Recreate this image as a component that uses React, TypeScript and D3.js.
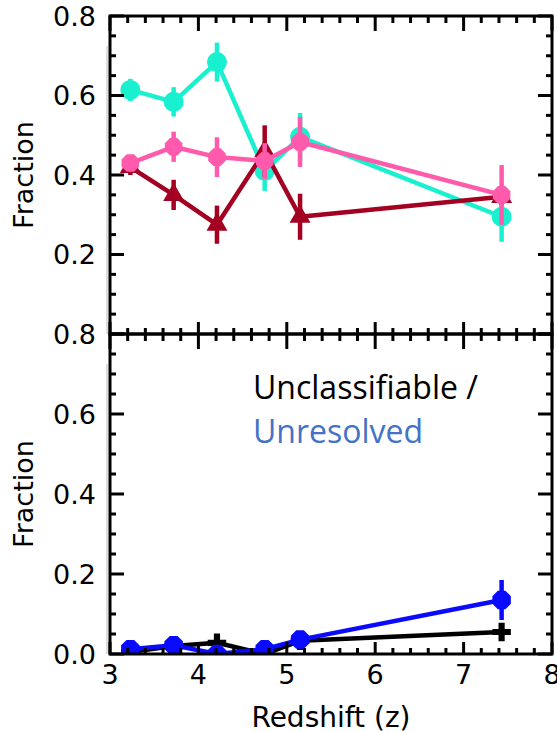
import React from "react";
import * as d3 from "d3";

const Z = [3.23, 3.72, 4.21, 4.75, 5.15, 7.43];
const cyanVals = [0.614, 0.584, 0.684, 0.41, 0.496, 0.295];
const cyanErr = [0.028, 0.037, 0.049, 0.05, 0.06, 0.063];
const redVals = [0.42, 0.35, 0.275, 0.46, 0.295, 0.345];
const redErr = [0.02, 0.038, 0.048, 0.065, 0.058, 0.02];
const pinkVals = [0.43, 0.471, 0.445, 0.435, 0.483, 0.35];
const pinkErr = [0.02, 0.038, 0.05, 0.045, 0.063, 0.075];
const blackVals = [0.005, 0.02, 0.028, 0.0, 0.033, 0.055];
const blackErr = [0.005, 0.008, 0.02, 0.005, 0.008, 0.02];
const blueVals = [0.012, 0.022, 0.0, 0.012, 0.036, 0.135];
const blueErr = [0.01, 0.012, 0.005, 0.01, 0.012, 0.05];

const xTicks = [3, 4, 5, 6, 7, 8];
const yTicks = [0, 0.2, 0.4, 0.6, 0.8];
const yTickLabels = ["0.0", "0.2", "0.4", "0.6", "0.8"];
const xLabel = "Redshift (z)";
const yLabel = "Fraction";

const W = 557, H = 731;
const X0 = 110, X1 = 552;
const x = d3.scaleLinear().domain([3, 8]).range([X0, X1]);
const yTop = d3.scaleLinear().domain([0, 0.8]).range([334, 16]);
const yBot = d3.scaleLinear().domain([0, 0.8]).range([654, 334]);

const CYAN = "#19f0cf";
const RED = "#a30022";
const PINK = "#ff5aab";
const BLUE = "#0a0aff";
const BLACK = "#000";
const FONT = "DejaVu Sans";

function polygonPath(n: number, r: number, rot: number) {
  const pts: [number, number][] = d3.range(n).map((i) => {
    const a = rot + (i * 2 * Math.PI) / n;
    return [r * Math.cos(a), r * Math.sin(a)];
  });
  return "M" + pts.map((p) => p.join(",")).join("L") + "Z";
}

function Series({ vals, errs, color, y, marker, size }: any) {
  const line = d3.line<number>().x((_, i) => x(Z[i])).y((v) => y(v));
  let shape = "";
  if (marker === "octagon") shape = polygonPath(8, size, Math.PI / 8);
  else if (marker === "triangle") shape = d3.symbol(d3.symbolTriangle, size)()!;
  else if (marker === "cross") shape = d3.symbol(d3.symbolCross, size)()!;
  return (
    <g>
      <path d={line(vals)!} fill="none" stroke={color} strokeWidth={4.5} strokeLinejoin="round" />
      {vals.map((v: number, i: number) => (
        <line key={"e" + i} x1={x(Z[i])} x2={x(Z[i])} y1={y(v - errs[i])} y2={y(v + errs[i])} stroke={color} strokeWidth={4.5} />
      ))}
      {vals.map((v: number, i: number) =>
        marker === "circle" ? (
          <circle key={"m" + i} cx={x(Z[i])} cy={y(v)} r={size} fill={color} />
        ) : (
          <path key={"m" + i} d={shape} transform={`translate(${x(Z[i])},${y(v)})`} fill={color} />
        )
      )}
    </g>
  );
}

function Frame({ y, top }: { y: any; top: boolean }) {
  const [yb, yt] = y.range();
  const minorY = d3.range(0, 0.8001, 0.05).filter((v) => Math.abs(Math.round(v / 0.2) * 0.2 - v) > 1e-6);
  const minorX = d3.range(3, 8.0001, 0.2).filter((v) => Math.abs(Math.round(v) - v) > 1e-6);
  const els: any[] = [];
  yTicks.forEach((v, i) => {
    els.push(<line key={"yl" + i} x1={X0} x2={X0 + 14} y1={y(v)} y2={y(v)} stroke="#000" strokeWidth={3} />);
    els.push(<line key={"yr" + i} x1={X1} x2={X1 - 14} y1={y(v)} y2={y(v)} stroke="#000" strokeWidth={3} />);
  });
  minorY.forEach((v, i) => {
    els.push(<line key={"yml" + i} x1={X0} x2={X0 + 6} y1={y(v)} y2={y(v)} stroke="#000" strokeWidth={3} />);
    els.push(<line key={"ymr" + i} x1={X1} x2={X1 - 6} y1={y(v)} y2={y(v)} stroke="#000" strokeWidth={3} />);
  });
  xTicks.forEach((v, i) => {
    els.push(<line key={"xb" + i} x1={x(v)} x2={x(v)} y1={yb} y2={yb - 12} stroke="#000" strokeWidth={3} />);
    els.push(<line key={"xt" + i} x1={x(v)} x2={x(v)} y1={yt} y2={yt + 15} stroke="#000" strokeWidth={3} />);
  });
  minorX.forEach((v, i) => {
    els.push(<line key={"xmb" + i} x1={x(v)} x2={x(v)} y1={yb} y2={yb - 6} stroke="#000" strokeWidth={3} />);
    els.push(<line key={"xmt" + i} x1={x(v)} x2={x(v)} y1={yt} y2={yt + 7} stroke="#000" strokeWidth={3} />);
  });
  const labelIdx = yTicks.map((_, i) => i).filter((i) => !(top && yTicks[i] === 0));
  return (
    <g>
      <line x1={X0 - 3} x2={X0 - 3} y1={yt + 30} y2={yb} stroke="#bbb" strokeWidth={1} />
      <rect x={X0} y={yt} width={X1 - X0} height={yb - yt} fill="none" stroke="#000" strokeWidth={3} />
      {els}
      {labelIdx.map((i) => (
        <text key={"tl" + i} x={X0 - 14} y={y(yTicks[i])} dy="0.36em" textAnchor="end" fontFamily={FONT} fontSize={27} fill="#000">
          {yTickLabels[i]}
        </text>
      ))}
      <text transform={`translate(33,${(yb + yt) / 2}) rotate(-90)`} textAnchor="middle" fontFamily={FONT} fontSize={27} fill="#000">
        {yLabel}
      </text>
    </g>
  );
}

export default function App() {
  return (
    <svg width={W} height={H} style={{ position: "absolute", left: 0, top: 0, background: "#fff" }}>
      <defs>
        <clipPath id="cTop"><rect x={X0} y={16} width={X1 - X0} height={318} /></clipPath>
        <clipPath id="cBot"><rect x={X0} y={334} width={X1 - X0} height={320} /></clipPath>
      </defs>
      <g clipPath="url(#cTop)">
        <Series vals={cyanVals} errs={cyanErr} color={CYAN} y={yTop} marker="circle" size={10} />
        <Series vals={redVals} errs={redErr} color={RED} y={yTop} marker="triangle" size={190} />
        <Series vals={pinkVals} errs={pinkErr} color={PINK} y={yTop} marker="octagon" size={9.5} />
      </g>
      <g clipPath="url(#cBot)">
        <Series vals={blackVals} errs={blackErr} color={BLACK} y={yBot} marker="cross" size={190} />
        <Series vals={blueVals} errs={blueErr} color={BLUE} y={yBot} marker="octagon" size={10} />
      </g>
      <Frame y={yTop} top={true} />
      <Frame y={yBot} top={false} />
      {xTicks.map((v, i) => (
        <text key={"xt" + i} x={x(v)} y={684} textAnchor="middle" fontFamily={FONT} fontSize={27} fill="#000">
          {v}
        </text>
      ))}
      <text x={(X0 + X1) / 2} y={727} textAnchor="middle" fontFamily={FONT} fontSize={28} fill="#000">
        {xLabel}
      </text>
      <text x={253} y={399} fontFamily="Open Sans" fontSize={32} fill="#000">Unclassifiable /</text>
      <text x={253} y={443} fontFamily="Open Sans" fontSize={32} fill="#4472c4">Unresolved</text>
    </svg>
  );
}
